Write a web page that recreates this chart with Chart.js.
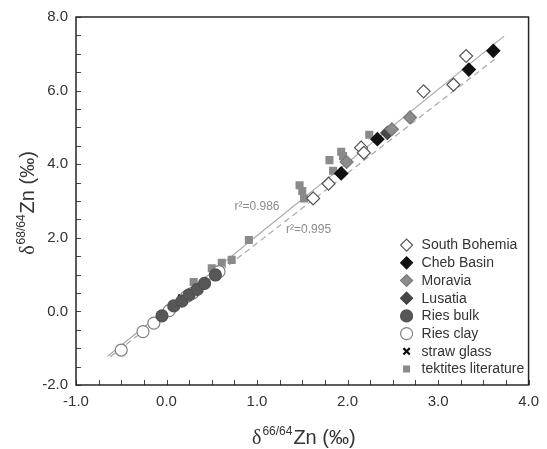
<!DOCTYPE html>
<html>
<head>
<meta charset="utf-8">
<script src="https://cdn.jsdelivr.net/npm/chart.js@4/dist/chart.umd.min.js"></script>
<style>
html,body{margin:0;padding:0;background:#fff;}
#wrap{width:547px;height:449px;position:relative;}
</style>
</head>
<body>
<div id="wrap"><canvas id="c"></canvas></div>
<script>
// ---- data ----
const xTicks = [-1, 0, 1, 2, 3, 4];
const yTicks = [-2, 0, 2, 4, 6, 8];

const seriesNames = ['South Bohemia','Cheb Basin','Moravia','Lusatia','Ries bulk','Ries clay','straw glass','tektites literature'];

const southBohemiaX = [1.62, 1.79, 2.15, 2.18, 2.84, 3.17, 3.31];
const southBohemiaY = [3.07, 3.47, 4.45, 4.31, 5.98, 6.16, 6.94];

const chebBasinX = [1.93, 2.33, 3.34, 3.61];
const chebBasinY = [3.75, 4.68, 6.57, 7.08];

const moraviaX = [1.99, 2.49, 2.69];
const moraviaY = [4.06, 4.95, 5.27];

const lusatiaX = [2.44];
const lusatiaY = [4.85];

const riesBulkX = [-0.05, 0.08, 0.17, 0.25, 0.34, 0.42, 0.54];
const riesBulkY = [-0.12, 0.15, 0.28, 0.45, 0.60, 0.76, 0.99];

const riesClayX = [-0.50, -0.26, -0.14, 0.03, 0.22, 0.29, 0.58];
const riesClayY = [-1.05, -0.55, -0.32, 0.02, 0.40, 0.50, 1.08];

const strawGlassX = [0.17];
const strawGlassY = [0.36];

const tektitesX = [0.30, 0.50, 0.61, 0.72, 0.91, 1.47, 1.50, 1.52, 1.80, 1.84, 1.93, 1.95, 2.24];
const tektitesY = [0.80, 1.17, 1.32, 1.40, 1.94, 3.43, 3.27, 3.07, 4.11, 3.82, 4.34, 4.22, 4.80];

const fitSolidX = [-0.65, 3.73];
const fitSolidY = [-1.22, 7.48];
const fitDashedX = [-0.62, 3.64];
const fitDashedY = [-1.23, 6.88];

const fitLabels = ['r²=0.986', 'r²=0.995'];
const fitLabelX = [1.00, 1.57];
const fitLabelY = [2.84, 2.23];

// ---- helpers ----
const pts = (xs, ys) => xs.map((x, i) => ({x: x, y: ys[i]}));

function scatter(label, xs, ys, style) {
  return Object.assign({
    type: 'scatter', label: label, data: pts(xs, ys), order: 1,
    pointBorderWidth: 1.2
  }, style);
}

const datasets = [
  scatter(seriesNames[0], southBohemiaX, southBohemiaY, {pointStyle:'rectRot', pointRadius:6.5, backgroundColor:'#ffffff', borderColor:'#555555'}),
  scatter(seriesNames[1], chebBasinX, chebBasinY, {pointStyle:'rectRot', pointRadius:6.5, backgroundColor:'#111111', borderColor:'#111111'}),
  scatter(seriesNames[2], moraviaX, moraviaY, {pointStyle:'rectRot', pointRadius:6.5, backgroundColor:'#8c8c8c', borderColor:'#7a7a7a'}),
  scatter(seriesNames[3], lusatiaX, lusatiaY, {pointStyle:'rectRot', pointRadius:6.5, backgroundColor:'#474747', borderColor:'#404040'}),
  scatter(seriesNames[4], riesBulkX, riesBulkY, {pointStyle:'circle', pointRadius:6, backgroundColor:'#575757', borderColor:'#505050'}),
  scatter(seriesNames[5], riesClayX, riesClayY, {pointStyle:'circle', pointRadius:6, backgroundColor:'#ffffff', borderColor:'#808080'}),
  scatter(seriesNames[6], strawGlassX, strawGlassY, {pointStyle:'crossRot', pointRadius:5, backgroundColor:'#111111', borderColor:'#111111', pointBorderWidth:2.2}),
  scatter(seriesNames[7], tektitesX, tektitesY, {pointStyle:'rect', pointRadius:5.7, backgroundColor:'#8a8a8a', borderColor:'#8a8a8a', pointBorderWidth:0}),
  {type:'line', label:'fit1', data: pts(fitSolidX, fitSolidY), borderColor:'#a8a8a8', borderWidth:1.2, pointRadius:0, fill:false, order:10, isFit:true},
  {type:'line', label:'fit2', data: pts(fitDashedX, fitDashedY), borderColor:'#a8a8a8', borderWidth:1.2, borderDash:[6,4], pointRadius:0, fill:false, order:10, isFit:true}
];

// ---- plugin: frame, inward ticks, titles, legend, r² labels ----
const decor = {
  id: 'decor',
  afterDatasetsDraw(chart) {
    const ctx = chart.ctx, a = chart.chartArea;
    const xs = chart.scales.x, ys = chart.scales.y;
    ctx.save();
    // minor/major inward ticks
    ctx.strokeStyle = '#444'; ctx.lineWidth = 1;
    ctx.beginPath();
    for (let v = xs.min; v <= xs.max + 1e-9; v += 0.25) {
      const px = Math.round(xs.getPixelForValue(v)) + 0.5;
      ctx.moveTo(px, a.bottom); ctx.lineTo(px, a.bottom - 5);
    }
    for (let v = ys.min; v <= ys.max + 1e-9; v += 0.5) {
      const py = Math.round(ys.getPixelForValue(v)) + 0.5;
      ctx.moveTo(a.left, py); ctx.lineTo(a.left + 5, py);
    }
    ctx.stroke();
    // frame
    ctx.strokeStyle = '#262626'; ctx.lineWidth = 1.5;
    ctx.strokeRect(a.left, a.top, a.right - a.left, a.bottom - a.top);

    // r² labels
    ctx.fillStyle = '#8c8c8c';
    ctx.font = '12px "Liberation Sans", Arial, sans-serif';
    ctx.textAlign = 'center'; ctx.textBaseline = 'middle';
    fitLabels.forEach((t, i) => {
      ctx.fillText(t, xs.getPixelForValue(fitLabelX[i]), ys.getPixelForValue(fitLabelY[i]));
    });

    // legend
    const n = seriesNames.length;
    const lx = a.right - 122, tx = a.right - 107;
    ctx.font = '14px "Liberation Sans", Arial, sans-serif';
    ctx.textAlign = 'left'; ctx.textBaseline = 'middle';
    chart.data.datasets.forEach((ds, i) => {
      if (ds.isFit) return;
      const y = a.bottom - 16 - (n - 1 - i) * 17.7;
      ctx.fillStyle = ds.backgroundColor; ctx.strokeStyle = ds.borderColor;
      ctx.lineWidth = ds.pointBorderWidth;
      Chart.helpers.drawPoint(ctx, {pointStyle: ds.pointStyle, radius: ds.pointStyle === 'crossRot' ? 4.5 : (ds.pointStyle === 'rect' ? 5 : 6), borderWidth: ds.pointBorderWidth, rotation: 0}, lx, y);
      ctx.fillStyle = '#333';
      ctx.fillText(ds.label, tx, y + 0.5);
    });

    // axis titles with superscripts
    function titleParts(sup) {
      return [
        {t: 'δ', f: '20px "Liberation Serif", serif', dy: 0},
        {t: sup, f: '12px "Liberation Sans", Arial, sans-serif', dy: -9},
        {t: 'Zn (‰)', f: '20px "Liberation Sans", Arial, sans-serif', dy: 0}
      ];
    }
    function drawTitle(parts, cx, cy, rot) {
      ctx.save();
      ctx.translate(cx, cy);
      if (rot) ctx.rotate(-Math.PI / 2);
      ctx.fillStyle = '#333'; ctx.textBaseline = 'alphabetic'; ctx.textAlign = 'left';
      let w = 0;
      parts.forEach(p => { ctx.font = p.f; p.w = ctx.measureText(p.t).width; w += p.w + 1; });
      let x = -w / 2;
      parts.forEach(p => { ctx.font = p.f; ctx.fillText(p.t, x, p.dy); x += p.w + 1; });
      ctx.restore();
    }
    drawTitle(titleParts('66/64'), (a.left + a.right) / 2 + 2, 444, false);
    drawTitle(titleParts('68/64'), 33.5, (a.top + a.bottom) / 2 + 1.5, true);
    ctx.restore();
  }
};

const tickFont = {family: '"Liberation Sans", Arial, sans-serif', size: 15};

new Chart(document.getElementById('c'), {
  data: {datasets: datasets},
  options: {
    responsive: true, maintainAspectRatio: false, animation: false,
    layout: {padding: {top: 17, right: 12, left: 0, bottom: 0}},
    plugins: {legend: {display: false}, tooltip: {enabled: false}},
    scales: {
      x: {
        type: 'linear', min: -1, max: 4,
        grid: {display: false, drawTicks: false}, border: {display: false},
        afterBuildTicks: s => { s.ticks = xTicks.map(v => ({value: v})); },
        afterFit: s => { s.height = 64; },
        ticks: {font: tickFont, color: '#333', padding: 8, maxRotation: 0, callback: v => Number(v).toFixed(1)}
      },
      y: {
        type: 'linear', min: -2, max: 8,
        grid: {display: false, drawTicks: false}, border: {display: false},
        afterBuildTicks: s => { s.ticks = yTicks.map(v => ({value: v})); },
        afterFit: s => { s.width = 76; },
        ticks: {font: tickFont, color: '#333', padding: 8, callback: v => Number(v).toFixed(1)}
      }
    }
  },
  plugins: [decor]
});
</script>
</body>
</html>
